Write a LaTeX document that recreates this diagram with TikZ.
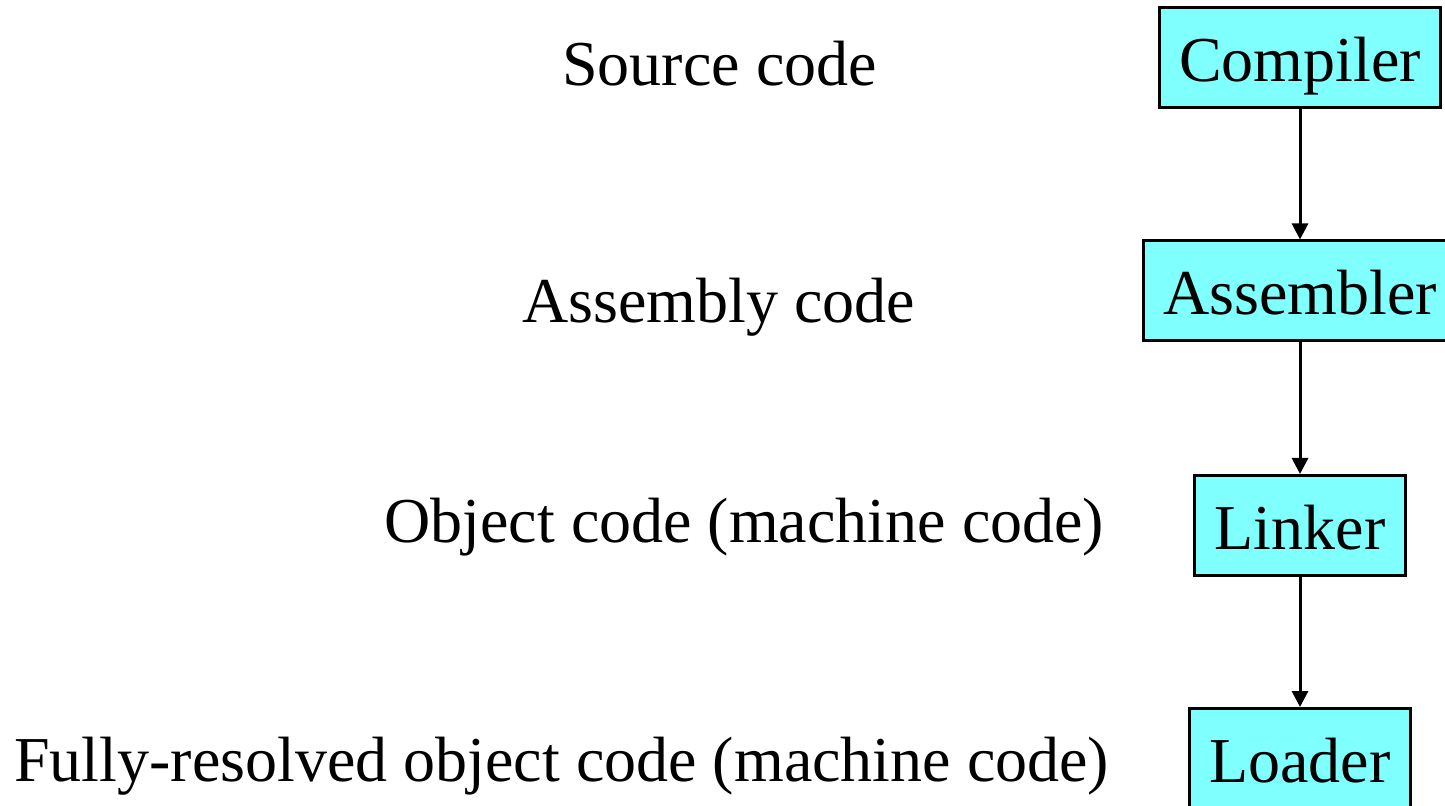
\documentclass[tikz,border=0pt]{standalone}
\usepackage{fontspec}
\newfontfamily\labelfont{LiberationSerif}[Extension=.ttf, UprightFont=*-Regular]
\usetikzlibrary{arrows.meta}
\definecolor{stagefill}{RGB}{128,255,255}
\begin{document}
\begin{tikzpicture}[x=0.5pt,y=-0.5pt,
  every node/.style={font=\labelfont\fontsize{32pt}{38pt}\selectfont, inner sep=0pt},
  stage/.style={draw=black, fill=stagefill, line width=1.5pt,
    minimum height=50pt, inner xsep=10pt,
    text height=24pt, text depth=0pt},
  label/.style={anchor=base west},
  flow/.style={line width=1.5pt, -{Triangle[length=8pt,width=8pt]}}
]
\useasboundingbox (0,0) rectangle (1445,806);
\begin{scope}
\clip (0,0) rectangle (1445,806);
% processing stages
\node[stage] (compiler)  at (1300,58)    {Compiler};
\node[stage] (assembler) at (1300,291)   {Assembler};
\node[stage] (linker)    at (1300,525.5) {Linker};
\node[stage] (loader)    at (1300,758.5) {Loader};
% code produced at each step
\node[label] (src) at (562,86)  {Source code};
\node[label] (asm) at (522,323) {Assembly code};
\node[label] (obj) at (384,543) {Object code (machine code)};
\node[label] (exe) at (14,781)  {Fully-resolved object code (machine code)};
% connectors
\draw[flow] (compiler) -- (assembler);
\draw[flow] (assembler) -- (linker);
\draw[flow] (linker) -- (loader);
\end{scope}
\end{tikzpicture}
\end{document}
